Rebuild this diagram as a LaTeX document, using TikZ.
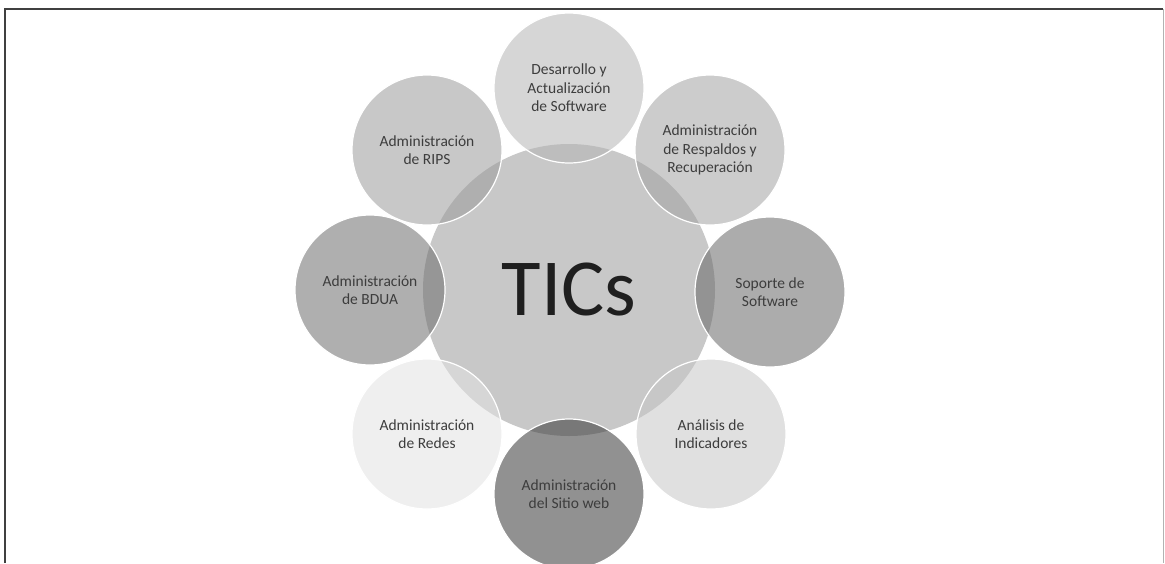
\documentclass[tikz,border=0pt]{standalone}
\usepackage{fontspec}
\setmainfont{Carlito}

\definecolor{hubgray}{gray}{0.785}
\definecolor{softa}{gray}{0.71}
\definecolor{softb}{gray}{0.64}
\definecolor{softc}{gray}{0.41}
\definecolor{softd}{gray}{0.78}
\definecolor{softe}{gray}{0.22}
\definecolor{softf}{gray}{0.89}
\definecolor{softg}{gray}{0.43}
\definecolor{softh}{gray}{0.61}

\begin{document}
\begin{tikzpicture}[x=1pt, y=-1pt,
  hub/.style={circle, fill=hubgray, minimum size=292pt, inner sep=0pt, text=black!88, font=\fontsize{81}{90}\selectfont},
  area/.style={circle, draw=white, line width=1.2pt, fill=#1, fill opacity=0.55, draw opacity=1, text opacity=1, minimum size=150pt, inner sep=0pt, align=center, text=black!76, font=\fontsize{15.5}{18.5}\selectfont}]
\clip (0,0) rectangle (1165,563);
\fill[white] (0,0) rectangle (1165,563);

\draw[black!75, line width=1.4pt] (5,563) -- (5,9) -- (1163,9);
\draw[black!30, line width=1pt] (1163,9) -- (1163,563);

\draw
(569, 290) node[hub](tics){TICs};

\draw
(569, 88) node[area=softa](dev){Desarrollo y\\Actualización\\de Software}
(710, 150) node[area=softb](bak){Administración\\de Respaldos y\\Recuperación}
(770, 292) node[area=softc](sop){Soporte de\\Software}
(711, 434) node[area=softd](ind){Análisis de\\Indicadores}
(569, 494) node[area=softe](web){Administración\\del Sitio web}
(427, 434) node[area=softf](red){Administración\\de Redes}
(370, 290) node[area=softg](bdua){Administración\\de BDUA}
(427, 150) node[area=softh](rips){Administración\\de RIPS};

\end{tikzpicture}
\end{document}
